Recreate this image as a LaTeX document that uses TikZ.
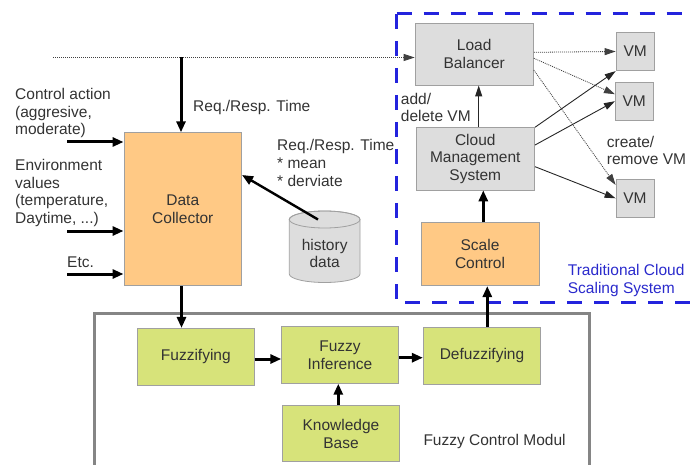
\documentclass[tikz,border=0pt]{standalone}
\usepackage{fontspec}
\setmainfont{Liberation Sans}
\usetikzlibrary{arrows.meta}
\definecolor{txt}{HTML}{333333}
\definecolor{orangefill}{HTML}{FFC985}
\definecolor{greenfill}{HTML}{D7E37A}
\definecolor{grayfill}{HTML}{DDDDDD}
\definecolor{boxline}{HTML}{A0A0A0}
\definecolor{frameline}{HTML}{858585}
\definecolor{bluedash}{HTML}{2323DD}
\definecolor{bluetext}{HTML}{2A2ACC}
\begin{document}
\begin{tikzpicture}[x=1pt,y=-1pt,
  every node/.style={font=\fontsize{15.5}{17.6}\selectfont, text=txt},
  blk/.style={draw=boxline, line width=0.8pt, align=center, inner sep=0pt},
  orangebox/.style={blk, fill=orangefill},
  greenbox/.style={blk, fill=greenfill},
  graybox/.style={blk, fill=grayfill},
  lbl/.style={align=left, anchor=west, inner sep=0pt},
  thickarrow/.style={line width=3pt, -{Triangle[length=11pt,width=9pt]}},
  midarrow/.style={line width=2.4pt, -{Triangle[length=11pt,width=9pt]}},
  thinarrow/.style={line width=0.9pt, black!85, -{Triangle[length=11pt,width=7pt]}},
  dotarrow/.style={line width=0.8pt, black!75, dash pattern=on 1pt off 1pt, -{Triangle[length=11pt,width=7pt]}},
]
\useasboundingbox (0,0) rectangle (693,465);

% frames
\draw[frameline, line width=3pt] (94,470) -- (94,313.3) -- (589,313.3) -- (589,470);
\draw[bluedash, line width=3pt, dash pattern=on 15pt off 12pt] (396.7,14) -- (700,14);
\draw[bluedash, line width=3pt, dash pattern=on 15pt off 12pt] (396.7,14) -- (396.7,302.3) -- (700,302.3);

% boxes
\node[orangebox, minimum width=117.7pt, minimum height=153pt] (DC) at (182.8,209.2) {Data\\Collector};
\node[graybox, minimum width=118.3pt, minimum height=61.7pt] (LB) at (474.2,54.2) {Load\\Balancer};
\node[graybox, minimum width=38.3pt, minimum height=38.4pt] (VMa) at (635.2,51.5) {VM};
\node[graybox, minimum width=37.7pt, minimum height=37.7pt] (VMb) at (634.2,101.2) {VM};
\node[graybox, minimum width=38pt, minimum height=38pt] (VMc) at (635,198.3) {VM};
\node[graybox, minimum width=118.7pt, minimum height=62.3pt] (CMS) at (475.3,158.8) {Cloud\\Management\\System};
\node[orangebox, minimum width=118pt, minimum height=63pt] (SC) at (480,254.2) {Scale\\Control};
\node[greenbox, minimum width=117pt, minimum height=56.7pt] (FZ) at (195.8,356.7) {Fuzzifying};
\node[greenbox, minimum width=116.6pt, minimum height=56.6pt] (FI) at (340,355) {Fuzzy\\Inference};
\node[greenbox, minimum width=117.4pt, minimum height=57pt] (DF) at (482,355.8) {Defuzzifying};
\node[greenbox, minimum width=116.6pt, minimum height=56pt] (KB) at (341,433.7) {Knowledge\\Base};

% history cylinder
\filldraw[fill=grayfill, draw=boxline, line width=0.8pt]
  (289.3,219.5) -- (289.3,274) arc[start angle=180, end angle=360, x radius=35.35pt, y radius=8.5pt]
  -- (360,219.5) arc[start angle=0, end angle=180, x radius=35.35pt, y radius=8.5pt] -- cycle;
\draw[boxline, line width=0.8pt] (324.65,219.5) ellipse[x radius=35.35pt, y radius=8.5pt];
\node[align=center, inner sep=0pt] (hist) at (324.7,253.3) {history\\data};
\coordinate (histtop) at (318,219.5);

% labels
\node[lbl] (lctrl) at (15,113) {Control action\\(aggresive,\\moderate)};
\node[lbl] (lenv) at (15,193) {Environment\\values\\(temperature,\\Daytime, ...)};
\node[lbl] (letc) at (67,262) {Etc.};
\node[lbl] (lreq) at (193,107) {Req./Resp. Time};
\node[lbl] (lstat) at (277,163) {Req./Resp. Time\\* mean\\* derviate};
\node[lbl] (ladd) at (400.7,107.5) {add/\\delete VM};
\node[lbl] (lcreate) at (606.7,150.4) {create/\\remove VM};
\node[lbl, text=bluetext] (ltrad) at (567.7,280.5) {Traditional Cloud\\Scaling System};
\node[lbl] (lfcm) at (423.3,441.7) {Fuzzy Control Modul};

% input coordinates
\coordinate (dotstart) at (53,57.5);
\coordinate (tap) at (181,57.5);
\coordinate (inA) at (67,142);
\coordinate (inB) at (67,231);
\coordinate (inC) at (67,274);

% connectors
\draw[line width=0.8pt, black!75, dash pattern=on 1pt off 1pt] (dotstart) -- (tap);
\draw[dotarrow] (tap) -- (tap -| LB.west);
\draw[thickarrow] (tap) -- (tap |- DC.north);
\draw[thickarrow] (inA) -- (inA -| DC.west);
\draw[thickarrow] (inB) -- (inB -| DC.west);
\draw[thickarrow] (inC) -- (inC -| DC.west);
\draw[midarrow] (histtop) -- ([yshift=34.2pt]DC.east);

\draw[thickarrow] (DC.south -| 181.5,0) -- (FZ.north -| 181.5,0);
\draw[thickarrow] ([yshift=-2.3pt]FZ.east) -- ([yshift=-2.3pt]FZ.east -| FI.west);
\draw[thickarrow] ([yshift=-2.7pt]FI.east) -- ([yshift=-2.7pt]FI.east -| DF.west);
\draw[thickarrow] ([xshift=-2.7pt]KB.north) -- ([xshift=-2.7pt]KB.north |- FI.south);
\draw[thickarrow] ([xshift=5.3pt]DF.north) -- ([xshift=5.3pt]DF.north |- SC.south);
\draw[thickarrow] ([xshift=3.3pt]SC.north) -- ([xshift=3.3pt]SC.north |- CMS.south);
\draw[thinarrow, line width=1.2pt] ([xshift=3.4pt]CMS.north) -- ([xshift=3.4pt]CMS.north |- LB.south);

\draw[dotarrow] ([yshift=1.9pt]LB.east) -- (VMa.west);
\draw[dotarrow] ([yshift=-4pt]LB.east) -- ([yshift=7pt]VMb.west);
\draw[dotarrow] ([yshift=-15.8pt]LB.east) -- ([yshift=-6pt]VMc.north west);
\draw[thinarrow] (CMS.north east) -- (VMa.south west);
\draw[thinarrow] ([yshift=13.8pt]CMS.east) -- (VMb.west);
\draw[thinarrow] ([yshift=-7.9pt]CMS.east) -- (VMc.west);
\end{tikzpicture}
\end{document}
